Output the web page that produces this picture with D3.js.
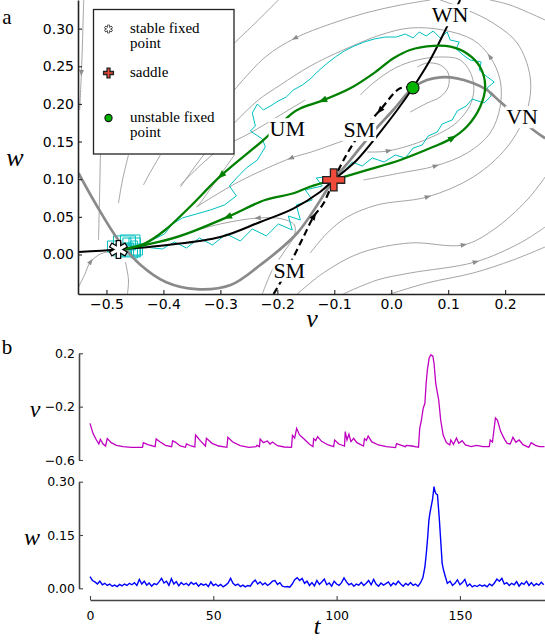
<!DOCTYPE html>
<html>
<head>
<meta charset="utf-8">
<script src="https://cdn.jsdelivr.net/npm/d3@7"></script>
<style>
body { margin: 0; background: #fff; }
svg { display: block; }
</style>
</head>
<body>
<svg width="545" height="641"></svg>
<script>
// ---- panel a data (phase plane, v on x, w on y) ----
var vTicksA = [-0.5, -0.4, -0.3, -0.2, -0.1, 0.0, 0.1, 0.2];
var wTicksA = [0, 0.05, 0.1, 0.15, 0.2, 0.25, 0.3];

var stablePt = [-0.479, 0.0066];
var saddlePt = [-0.101, 0.099];
var unstablePt = [0.038, 0.2215];

var vNullcline = [[-0.549, 0.108], [-0.518, 0.066], [-0.479, 0.019], [-0.440, -0.014], [-0.396, -0.0365],
    [-0.342, -0.046], [-0.282, -0.0405], [-0.230, -0.014], [-0.165, 0.0285], [-0.101, 0.099],
    [-0.0719, 0.1255], [-0.0339, 0.161], [0.0035, 0.1919], [0.038, 0.2215], [0.0626, 0.2317],
    [0.086, 0.2353], [0.1153, 0.234], [0.1444, 0.2274], [0.1679, 0.2185], [0.1912, 0.2029],
    [0.2496, 0.1653], [0.2702, 0.1543]];

var wNullcline = [[-0.549, 0.0033], [-0.479, 0.0066], [-0.393, 0.0126], [-0.300, 0.0232], [-0.230, 0.0432],
    [-0.172, 0.061], [-0.125, 0.083], [-0.101, 0.099], [-0.0602, 0.1255], [-0.0211, 0.161],
    [0.0105, 0.1919], [0.038, 0.2215], [0.068, 0.258], [0.095, 0.298], [0.121, 0.338]];

var unstableUpper = [[-0.101, 0.099], [-0.043, 0.112], [0.016, 0.1255], [0.074, 0.143], [0.1065, 0.1543],
    [0.133, 0.170], [0.156, 0.196], [0.165, 0.223], [0.156, 0.249], [0.133, 0.267], [0.104, 0.276],
    [0.074, 0.277], [0.033, 0.2716], [0.004, 0.2606], [-0.031, 0.2406], [-0.072, 0.2207],
    [-0.119, 0.205], [-0.160, 0.194], [-0.174, 0.1875], [-0.2246, 0.152], [-0.2977, 0.1056],
    [-0.356, 0.0614], [-0.397, 0.0325], [-0.432, 0.0149], [-0.473, 0.0069], [-0.479, 0.0066]];
var unstableUpperArrows = [4, 16, 20];

var unstableLower = [[-0.101, 0.099], [-0.1426, 0.09], [-0.1714, 0.0813], [-0.2216, 0.0724], [-0.286, 0.0502],
    [-0.3737, 0.0236], [-0.4321, 0.0126], [-0.4732, 0.0069], [-0.479, 0.0066]];
var unstableLowerArrows = [4];

var stableUpper = [[0.038, 0.2215], [0.0158, 0.2207], [-0.0193, 0.192], [-0.0544, 0.161], [-0.0837, 0.1255], [-0.101, 0.099]];
var stableUpperArrows = [2];
var stableLower = [[-0.2065, -0.0525], [-0.189, -0.0295], [-0.1714, -0.0029], [-0.1539, 0.0236], [-0.1363, 0.0502],
    [-0.1188, 0.068], [-0.101, 0.099]];
var stableLowerArrows = [4];

var streamlines = [
    [[-0.540, 0.338], [-0.542, 0.285], [-0.544, 0.242], [-0.547, 0.192]],
    [[-0.5105, 0.1388], [-0.5123, 0.0724], [-0.514, 0.0193]],
    [[-0.4614, 0.1321], [-0.4719, 0.0989], [-0.4789, 0.0684]],
    [[-0.4053, 0.1321], [-0.4228, 0.1096], [-0.4351, 0.0923]],
    [[-0.3228, 0.1388], [-0.3491, 0.1122], [-0.3702, 0.0896]],
    [[-0.2754, 0.1321], [-0.3088, 0.0963], [-0.3404, 0.0631]],
    [[-0.1982, 0.338], [-0.2333, 0.3114], [-0.2754, 0.2809]],
    [[0.0684, 0.338], [0.0158, 0.3313], [-0.0456, 0.3207], [-0.107, 0.3061], [-0.1684, 0.2875], [-0.2211, 0.2623], [-0.2754, 0.2185]],
    [[-0.0491, 0.0989], [0.0158, 0.1082], [0.0772, 0.1175], [0.1333, 0.1348], [0.1737, 0.1614], [0.1912, 0.1959],
        [0.1912, 0.2317], [0.1737, 0.2623], [0.1439, 0.2849], [0.0912, 0.2981], [0.0333, 0.3008], [-0.0193, 0.2915],
        [-0.0842, 0.2716], [-0.1421, 0.2503], [-0.1947, 0.2251], [-0.2333, 0.2052], [-0.2754, 0.1746]],
    [[-0.1421, 0.002], [-0.1123, 0.0286], [-0.0772, 0.0498], [-0.0246, 0.0658], [0.0632, 0.0764], [0.1439, 0.1029],
        [0.2035, 0.1427], [0.2386, 0.1919], [0.2439, 0.2357], [0.2211, 0.2809], [0.1789, 0.3074], [0.1333, 0.3247], [0.086, 0.338]],
    [[-0.1649, -0.0525], [-0.1193, -0.0246], [-0.0544, 0.002], [0.0333, 0.0153], [0.1263, 0.0126], [0.1789, 0.0325], [0.2386, 0.0724], [0.2702, 0.1029]],
    [[-0.0842, -0.0525], [-0.0246, -0.0339], [0.0333, -0.0246], [0.1474, -0.01], [0.2263, 0.0153], [0.2702, 0.0365]],
    [[-0.0018, -0.0525], [0.0632, -0.0378], [0.1439, -0.0246], [0.214, -0.0073], [0.2702, 0.01]],
    [[-0.0421, 0.1361], [-0.0053, 0.1375], [0.0632, 0.1534], [0.1158, 0.1759], [0.1421, 0.2052], [0.1421, 0.2357],
        [0.121, 0.2583], [0.086, 0.2623], [0.0456, 0.2583], [0.007, 0.2477], [-0.0316, 0.2278], [-0.0544, 0.2118]],
    [[0.0333, 0.1892], [0.0632, 0.2012], [0.086, 0.2092], [0.1, 0.2224], [0.1, 0.241], [0.086, 0.2517], [0.0632, 0.2543], [0.0456, 0.249]],
    [[-0.0807, 0.1521], [-0.1404, 0.1361], [-0.1754, 0.1282], [-0.2684, 0.0963], [-0.3421, 0.0631]],
    [[-0.1509, 0.2052], [-0.1947, 0.1853], [-0.2474, 0.1614], [-0.3035, 0.1388], [-0.3702, 0.0923]],
    [[-0.2263, -0.0525], [-0.2088, -0.0206], [-0.186, 0.006], [-0.1702, 0.0246], [-0.1702, 0.0392], [-0.1912, 0.0471],
        [-0.2333, 0.0485], [-0.3, 0.0405], [-0.3702, 0.0259], [-0.4228, 0.0139], [-0.4667, 0.0086]],
    [[-0.5491, -0.0432], [-0.5386, -0.0272], [-0.5281, -0.01], [-0.5105, 0.0007], [-0.4895, 0.0046]],
    [[-0.4632, -0.0525], [-0.4614, -0.0339], [-0.4667, -0.01]],
    [[0.2702, 0.3114], [0.2088, 0.3313], [0.1737, 0.338]]
];
var streamArrows = [[2], [], [], [], [], [], [], [4], [2, 7], [4], [4], [3], [], [1], [], [2], [], [6], [2], [], []];

// jitter around the stable point, then the excursion around the loop
var trajectoryBlob = [[-0.479, 0.0073], [-0.5035, 0.0033], [-0.493, 0.0179], [-0.4649, -0.002], [-0.4404, 0.0153],
    [-0.5, -0.002], [-0.4754, 0.0246], [-0.4228, 0.006], [-0.5053, 0.0126], [-0.4491, -0.0033], [-0.4316, 0.0219],
    [-0.4895, 0.0007], [-0.4614, 0.0139], [-0.4123, -0.0007], [-0.5018, 0.0219], [-0.4404, 0.0033], [-0.4719, -0.0046],
    [-0.4193, 0.0179], [-0.4965, 0.0086], [-0.4544, 0.0259], [-0.428, -0.002], [-0.4842, 0.0139]];
var trajectory = [[-0.4842, 0.0139],
    [-0.4018, 0.0073], [-0.3807, 0.0166], [-0.3596, 0.0086], [-0.3368, 0.0219], [-0.314, 0.0126], [-0.2895, 0.0272],
    [-0.2649, 0.0179], [-0.2439, 0.0339], [-0.2193, 0.0246], [-0.1982, 0.0405], [-0.1737, 0.0325], [-0.1807, 0.0511],
    [-0.1596, 0.0458], [-0.1667, 0.0657], [-0.1386, 0.0724], [-0.1509, 0.0857], [-0.1211, 0.091], [-0.1316, 0.1016],
    [-0.1018, 0.1042], [-0.0825, 0.1109], [-0.0684, 0.1228], [-0.0509, 0.1175], [-0.0333, 0.1282], [-0.0123, 0.1228],
    [0.007, 0.1321], [0.0246, 0.1282], [0.0386, 0.1414], [0.0544, 0.1454], [0.0649, 0.1574], [0.0807, 0.1627],
    [0.0895, 0.1733], [0.107, 0.1786], [0.1158, 0.1906], [0.1316, 0.1972], [0.1421, 0.2065], [0.1632, 0.2012],
    [0.1754, 0.2105], [0.1684, 0.2211], [0.1807, 0.2291], [0.1667, 0.237], [0.1544, 0.245], [0.1579, 0.2557],
    [0.1386, 0.2583], [0.1263, 0.2649], [0.114, 0.2729], [0.1193, 0.2822], [0.1035, 0.2849], [0.0982, 0.2955],
    [0.086, 0.2875], [0.0737, 0.2968], [0.0614, 0.2902], [0.0491, 0.2955], [0.0386, 0.2875], [0.0246, 0.2928],
    [0.0088, 0.2888], [-0.0105, 0.2888], [-0.0298, 0.2862], [-0.0474, 0.2822], [-0.0649, 0.2769], [-0.0825, 0.2703],
    [-0.0982, 0.2623], [-0.114, 0.253], [-0.1281, 0.2437], [-0.1421, 0.2331], [-0.1561, 0.2251], [-0.1719, 0.2185],
    [-0.1842, 0.2092], [-0.1982, 0.2039], [-0.2123, 0.1972], [-0.2246, 0.1919], [-0.2351, 0.1999], [-0.2439, 0.1879],
    [-0.2386, 0.1707], [-0.2474, 0.164], [-0.2263, 0.1534], [-0.2211, 0.1428], [-0.2351, 0.1255], [-0.2544, 0.1149],
    [-0.2684, 0.1042], [-0.2842, 0.091], [-0.2719, 0.0777], [-0.293, 0.0657], [-0.3175, 0.0591], [-0.3421, 0.0538],
    [-0.3667, 0.0485], [-0.3842, 0.0405], [-0.3982, 0.0272], [-0.4193, 0.0193], [-0.4439, 0.0113], [-0.4684, 0.006]];

var curveLabels = [["WN", 0.1035, 0.3187], ["UM", -0.1825, 0.1673], ["SM", -0.0561, 0.1662], ["VN", 0.2298, 0.1833], ["SM", -0.179, -0.0206]];
var legendItems = ["stable fixed|point", "saddle", "unstable fixed|point"];

// ---- panel b data (time series) ----
var tTicks = [0, 50, 100, 150];
var vTicksB = [0.2, -0.2, -0.6];
var wTicksB = [0, 0.15, 0.3];

var vSeries = [[0, -0.325], [1.2, -0.40], [2.6, -0.45], [3.6, -0.48], [4.2, -0.445], [5.3, -0.48], [6.3, -0.495],
    [7.0, -0.44], [8.6, -0.47], [10.7, -0.49], [13.4, -0.50], [16.7, -0.505], [21.3, -0.505], [21.6, -0.47],
    [23.5, -0.485], [26.4, -0.50], [26.8, -0.4425], [28.5, -0.465], [30.6, -0.49], [33.1, -0.50], [33.5, -0.455],
    [34.7, -0.4675], [36.6, -0.495], [38.7, -0.505], [39.1, -0.48], [41.0, -0.495], [42.5, -0.5025], [42.8, -0.4125],
    [44.7, -0.455], [46.8, -0.495], [47.2, -0.4375], [49.5, -0.475], [52.2, -0.495], [55.5, -0.505], [55.9, -0.43],
    [57.9, -0.465], [60.9, -0.4925], [64.4, -0.505], [67.3, -0.50], [67.7, -0.49], [68.7, -0.50], [69.0, -0.4425],
    [70.3, -0.47], [71.9, -0.4575], [73.0, -0.48], [74.0, -0.465], [76.0, -0.4925], [78.8, -0.5025], [81.7, -0.505],
    [82.1, -0.415], [83.0, -0.435], [83.8, -0.3625], [84.9, -0.41], [86.9, -0.445], [88.9, -0.48], [90.4, -0.50],
    [90.7, -0.44], [91.5, -0.455], [92.3, -0.425], [93.9, -0.46], [96.6, -0.4875], [98.8, -0.50], [99.2, -0.45],
    [100.9, -0.48], [103.2, -0.495], [103.5, -0.3875], [104.2, -0.45], [105.0, -0.4075], [105.8, -0.4625],
    [106.9, -0.4375], [108.2, -0.47], [110.9, -0.495], [111.3, -0.44], [112.1, -0.4525], [112.8, -0.42],
    [114.2, -0.4625], [116.9, -0.4875], [120.2, -0.50], [123.9, -0.5075], [124.3, -0.4775], [126.3, -0.49],
    [127.9, -0.50], [128.3, -0.49], [130.6, -0.495], [133.2, -0.505], [133.7, -0.3625], [134.4, -0.30],
    [135.1, -0.2125], [135.8, -0.175], [136.3, -0.025], [136.8, 0.075], [137.5, 0.1625], [138.2, 0.1875],
    [139.0, 0.18], [139.5, 0.125], [140.2, -0.025], [140.9, -0.10], [141.4, -0.15], [142.2, -0.30], [143.2, -0.4125],
    [144.5, -0.47], [145.9, -0.4875], [146.3, -0.45], [147.4, -0.4825], [148.6, -0.435], [149.5, -0.475],
    [150.9, -0.455], [152.2, -0.4875], [154.6, -0.50], [156.7, -0.49], [159.4, -0.50], [161.9, -0.50], [162.3, -0.45],
    [163.2, -0.465], [164.4, -0.285], [165.2, -0.30], [166.5, -0.385], [168.1, -0.445], [169.2, -0.475], [170.4, -0.48],
    [171.5, -0.43], [172.7, -0.4675], [174.0, -0.45], [175.6, -0.485], [177.9, -0.505], [178.9, -0.47], [180.6, -0.49],
    [182.3, -0.50], [184.3, -0.50]];

var wSeries = [[0, .033], [1, .022], [2, .018], [3, .012], [4, .02], [5, .01], [6, .014], [7, .008], [8, .012], [9, .006],
    [10, .009], [11, .005], [12, .011], [13, .007], [14, .012], [15, .008], [16, .014], [17, .01], [18, .016], [19, .008],
    [20, .025], [21, .012], [22, .02], [23, .009], [24, .015], [25, .006], [26, .013], [27, .01], [28, .018], [29, .028],
    [30, .015], [31, .02], [32, .008], [33, .027], [34, .012], [35, .019], [36, .007], [37, .016], [38, .01], [39, .014],
    [40, .008], [41, .017], [42, .011], [43, .015], [44, .006], [45, .013], [46, .009], [47, .012], [48, .005], [49, .018],
    [50, .008], [51, .012], [52, .006], [53, .011], [54, .004], [55, .009], [56, .015], [57, .028], [58, .014], [59, .008],
    [60, .012], [61, .005], [62, .009], [63, .004], [64, .008], [65, .006], [66, .017], [67, .023], [68, .012], [69, .018],
    [70, .01], [71, .015], [72, .008], [73, .013], [74, .02], [75, .022], [76, .011], [77, .016], [78, .006], [79, .004],
    [80, .005], [81, .003], [82, .012], [83, .024], [84, .03], [85, .022], [86, .028], [87, .014], [88, .02], [89, .008],
    [90, .016], [91, .007], [92, .022], [93, .011], [94, .018], [95, .026], [96, .01], [97, .015], [98, .006], [99, .02],
    [100, .012], [101, .008], [102, .016], [103, .029], [104, .018], [105, .01], [106, .014], [107, .006], [108, .012], [109, .009],
    [110, .017], [111, .008], [112, .014], [113, .022], [114, .01], [115, .025], [116, .012], [117, .006], [118, .015], [119, .009],
    [120, .013], [121, .018], [122, .007], [123, .015], [124, .01], [125, .02], [126, .012], [127, .006], [128, .014], [129, .009],
    [130, .016], [131, .008], [132, .012], [133, .006], [134, .015], [135, .03], [135.8, .06], [136.4, .1], [137, .15],
    [137.4, .19], [137.8, .21], [138.2, .225], [138.9, .25], [139.5, .286], [139.8, .275], [140.2, .267], [140.9, .263],
    [141.6, .2], [142.2, .136], [142.8, .07], [143.4, .05], [143.9, .0375], [144.9, .014], [146, .02], [147, .008],
    [148, .014], [149, .024], [150, .01], [151, .016], [152, .025], [153, .006], [154, .012], [155, .004], [156, .008], [157, .005],
    [158, .01], [159, .006], [160, .009], [161, .004], [162, .012], [163, .007], [164, .015], [165, .026], [166, .02], [167, .028],
    [168, .012], [169, .016], [170, .008], [171, .014], [172, .01], [173, .019], [174, .006], [175, .015], [176, .011], [177, .02],
    [178, .008], [179, .016], [180, .007], [181, .013], [182, .009], [183, .017], [184, .01]];

// ---- drawing ----
var svg = d3.select("svg");

var xA = d3.scaleLinear().domain([-0.55, 0.27]).range([78, 545]);
var yA = d3.scaleLinear().domain([-0.0525, 0.338]).range([294, 0]);

var line = d3.line()
    .x(function (d) { return xA(d[0]); })
    .y(function (d) { return yA(d[1]); })
    .curve(d3.curveCatmullRom.alpha(0.5));

svg.append("clipPath").attr("id", "clipA")
    .append("rect").attr("x", 78).attr("y", 0).attr("width", 467).attr("height", 294);

var plotA = svg.append("g").attr("clip-path", "url(#clipA)");

function arrowAt(g, pts, i, size, color) {
    var a = pts[Math.max(i - 1, 0)], b = pts[Math.min(i + 1, pts.length - 1)], p = pts[i];
    var ang = Math.atan2(yA(b[1]) - yA(a[1]), xA(b[0]) - xA(a[0])) * 180 / Math.PI;
    g.append("path")
        .attr("d", "M" + size + ",0L" + (-size * 0.6) + "," + (size * 0.6) + "L" + (-size * 0.6) + "," + (-size * 0.6) + "Z")
        .attr("transform", "translate(" + xA(p[0]) + "," + yA(p[1]) + ") rotate(" + ang + ")")
        .attr("fill", color);
}

// streamlines
streamlines.forEach(function (s, k) {
    plotA.append("path").attr("d", line(s))
        .attr("fill", "none").attr("stroke", "#9a9a9a").attr("stroke-width", 0.9);
    streamArrows[k].forEach(function (i) { arrowAt(plotA, s, i, 4, "#8c8c8c"); });
});

// noisy trajectory
var rawLine = d3.line().x(function (d) { return xA(d[0]); }).y(function (d) { return yA(d[1]); });
plotA.append("path")
    .attr("d", rawLine.curve(d3.curveStep)(trajectoryBlob))
    .attr("fill", "none").attr("stroke", "#00c0c0").attr("stroke-width", 1);
plotA.append("path")
    .attr("d", rawLine.curve(d3.curveLinear)(trajectory))
    .attr("fill", "none").attr("stroke", "#00c0c0").attr("stroke-width", 1);

// nullclines
plotA.append("path").attr("d", line(vNullcline))
    .attr("fill", "none").attr("stroke", "#8a8a8a").attr("stroke-width", 2.7);
plotA.append("path").attr("d", line(wNullcline))
    .attr("fill", "none").attr("stroke", "#000").attr("stroke-width", 2);

// stable manifold (dashed)
[[stableUpper, stableUpperArrows], [stableLower, stableLowerArrows]].forEach(function (m) {
    plotA.append("path").attr("d", line(m[0]))
        .attr("fill", "none").attr("stroke", "#000").attr("stroke-width", 2.2)
        .attr("stroke-dasharray", "7,4");
    m[1].forEach(function (i) { arrowAt(plotA, m[0], i, 5, "#000"); });
});

// unstable manifold (green)
[[unstableUpper, unstableUpperArrows], [unstableLower, unstableLowerArrows]].forEach(function (m) {
    plotA.append("path").attr("d", line(m[0]))
        .attr("fill", "none").attr("stroke", "#008000").attr("stroke-width", 2.3);
    m[1].forEach(function (i) { arrowAt(plotA, m[0], i, 5.5, "#008000"); });
});

// curve labels with white boxes
curveLabels.forEach(function (d) {
    var g = plotA.append("g");
    var t = g.append("text")
        .attr("x", xA(d[1])).attr("y", yA(d[2])).attr("dy", "0.35em")
        .attr("text-anchor", "middle")
        .attr("font-family", "Liberation Serif, serif").attr("font-size", 22)
        .text(d[0]);
    var bb = t.node().getBBox();
    g.insert("rect", "text")
        .attr("x", bb.x - 1).attr("y", bb.y + 2).attr("width", bb.width + 2).attr("height", bb.height - 3)
        .attr("fill", "#fff");
});

// markers
function drawStar(g, x, y, s) {
    [90, 30, 150].forEach(function (a) {
        var r = a * Math.PI / 180;
        g.append("line")
            .attr("x1", x - Math.cos(r) * 9.5 * s).attr("y1", y - Math.sin(r) * 9.5 * s)
            .attr("x2", x + Math.cos(r) * 9.5 * s).attr("y2", y + Math.sin(r) * 9.5 * s)
            .attr("stroke", "#000").attr("stroke-width", 5.6 * s);
    });
    [90, 30, 150].forEach(function (a) {
        var r = a * Math.PI / 180;
        g.append("line")
            .attr("x1", x - Math.cos(r) * 8.3 * s).attr("y1", y - Math.sin(r) * 8.3 * s)
            .attr("x2", x + Math.cos(r) * 8.3 * s).attr("y2", y + Math.sin(r) * 8.3 * s)
            .attr("stroke", "#fff").attr("stroke-width", 3.2 * s);
    });
}
function drawPlus(g, x, y, s) {
    g.append("path")
        .attr("d", "M-3.3,-11H3.3V-3.3H11V3.3H3.3V11H-3.3V3.3H-11V-3.3H-3.3Z")
        .attr("transform", "translate(" + x + "," + y + ") scale(" + s + ")")
        .attr("fill", "#f04a3a").attr("stroke", "#222").attr("stroke-width", 1.3 / s);
}
function drawDot(g, x, y, r) {
    g.append("circle").attr("cx", x).attr("cy", y).attr("r", r)
        .attr("fill", "#00b400").attr("stroke", "#111").attr("stroke-width", 1.1);
}

drawStar(svg, xA(stablePt[0]), yA(stablePt[1]), 1);
drawPlus(svg, xA(saddlePt[0]), yA(saddlePt[1]), 1);
drawDot(svg, xA(unstablePt[0]), yA(unstablePt[1]), 6.2);

// axes, panel a
var axA = svg.append("g").attr("transform", "translate(0,294)")
    .call(d3.axisBottom(xA).tickValues(vTicksA).tickFormat(d3.format(".1f"))
        .tickSize(-4).tickSizeOuter(0).tickPadding(5));
var ayA = svg.append("g").attr("transform", "translate(78,0)")
    .call(d3.axisLeft(yA).tickValues(wTicksA).tickFormat(d3.format(".2f"))
        .tickSize(-4).tickSizeOuter(0).tickPadding(4));
[axA, ayA].forEach(function (a) {
    a.attr("font-family", "DejaVu Sans, sans-serif").attr("font-size", 14);
    a.select(".domain").attr("stroke", "#222").attr("stroke-width", 1.6);
    a.selectAll(".tick line").attr("stroke", "#222").attr("stroke-width", 1.1);
    a.selectAll(".tick text").attr("fill", "#000");
});

// legend
var leg = svg.append("g");
leg.append("rect").attr("x", 93.5).attr("y", 9.5).attr("width", 140.5).attr("height", 144.5)
    .attr("fill", "#fff").attr("stroke", "#222").attr("stroke-width", 1.3);
var legY = [[29, 33.3], [73, 76.5], [118, 121.7]];
legendItems.forEach(function (txt, i) {
    if (i === 0) drawStar(leg, 108.5, legY[i][0], 0.45);
    if (i === 1) drawPlus(leg, 108.5, legY[i][0], 0.45);
    if (i === 2) drawDot(leg, 108.5, legY[i][0], 3.6);
    txt.split("|").forEach(function (part, j) {
        leg.append("text").attr("x", 130).attr("y", legY[i][1] + j * 15)
            .attr("font-family", "Liberation Serif, serif").attr("font-size", 15)
            .text(part);
    });
});

// panel b scales
var xT = d3.scaleLinear().domain([0, 184.5]).range([90, 545]);
var yV = d3.scaleLinear().domain([-0.6, 0.2]).range([460, 353.3]);
var yW = d3.scaleLinear().domain([0, 0.3]).range([588.3, 481.7]);

svg.append("path")
    .attr("d", d3.line().x(function (d) { return xT(d[0]); }).y(function (d) { return yV(d[1]); })(vSeries))
    .attr("fill", "none").attr("stroke", "#c000c0").attr("stroke-width", 1.3);
svg.append("path")
    .attr("d", d3.line().x(function (d) { return xT(d[0]); }).y(function (d) { return yW(d[1]); })(wSeries))
    .attr("fill", "none").attr("stroke", "#0000ff").attr("stroke-width", 1.4);

var ayV = svg.append("g").attr("transform", "translate(79,0)")
    .call(d3.axisLeft(yV).tickValues(vTicksB).tickFormat(d3.format(".1f"))
        .tickSize(-4).tickSizeOuter(0).tickPadding(4));
var ayW = svg.append("g").attr("transform", "translate(79,0)")
    .call(d3.axisLeft(yW).tickValues(wTicksB).tickFormat(d3.format(".2f"))
        .tickSize(-4).tickSizeOuter(0).tickPadding(4));
var axT = svg.append("g").attr("transform", "translate(0,600)")
    .call(d3.axisBottom(xT).tickValues(tTicks).tickFormat(d3.format("d"))
        .tickSize(-4).tickSizeOuter(0).tickPadding(11));
[ayV, ayW, axT].forEach(function (a) {
    a.attr("font-family", "DejaVu Sans, sans-serif").attr("font-size", 12.5);
    a.select(".domain").attr("stroke", "#444").attr("stroke-width", 1.6);
    a.selectAll(".tick line").attr("stroke", "#444").attr("stroke-width", 1.1);
    a.selectAll(".tick text").attr("fill", "#000");
});

// texts
function label(x, y, txt, size, italic) {
    svg.append("text").attr("x", x).attr("y", y)
        .attr("text-anchor", "middle")
        .attr("font-family", "Liberation Serif, serif")
        .attr("font-style", italic ? "italic" : "normal")
        .attr("font-size", size).text(txt);
}
label(7, 24, "a", 21, false);
label(7, 354, "b", 21, false);
label(15, 166, "w", 26, true);
label(312, 327, "v", 26, true);
label(35, 417, "v", 24, true);
label(32, 545, "w", 24, true);
label(317, 634, "t", 24, true);
</script>
</body>
</html>
